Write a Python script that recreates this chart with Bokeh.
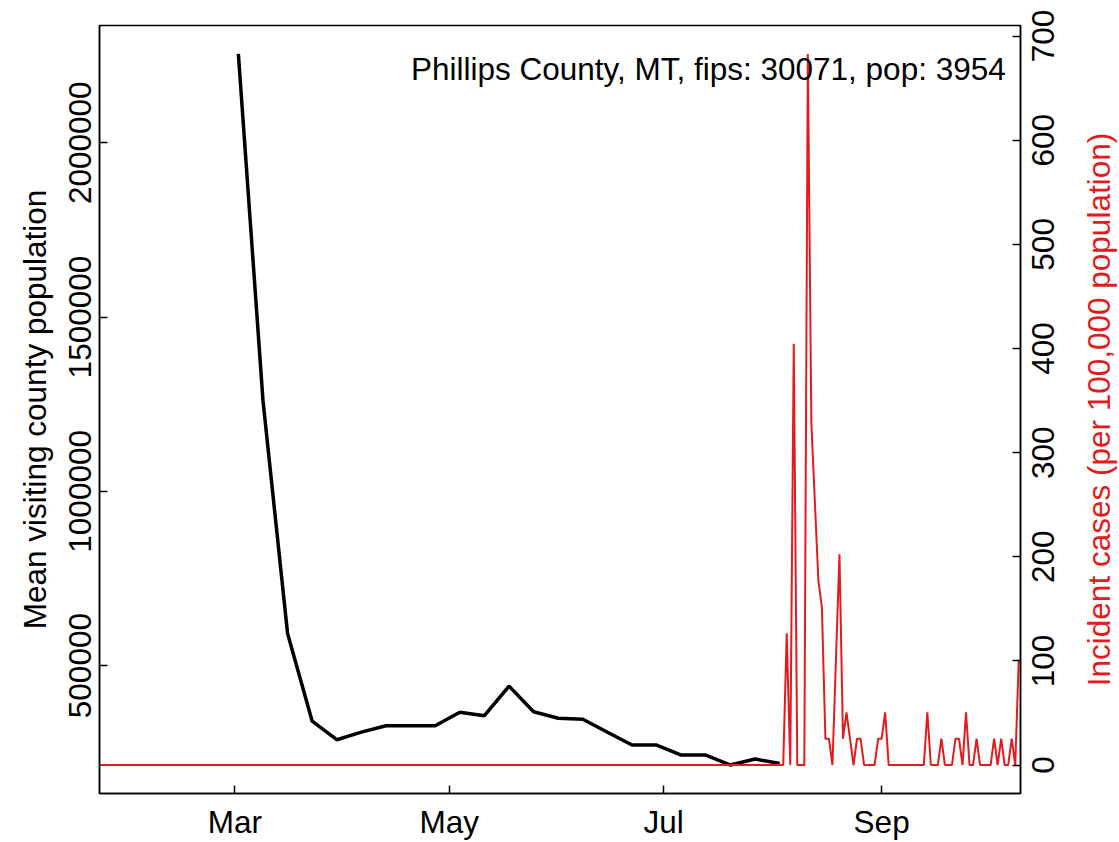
import math
import pandas as pd
from bokeh.plotting import figure
from bokeh.layouts import row
from bokeh.models import (Range1d, LinearAxis, FixedTicker, DatetimeTickFormatter,
                          BasicTickFormatter, Label, CustomJSTickFormatter)
from bokeh.core.properties import value
from bokeh.embed import file_html
from bokeh.resources import INLINE

# ---------------- data ----------------
county_label = "Phillips County, MT, fips: 30071, pop: 3954"
population = 3954
right_title = "Incident cases (per 100,000 population)"
left_title = "Mean visiting county population"

# weekly mean visiting county population (weeks starting Mondays)
visit_start = "2020-03-02"
visit_values = [2254900, 1261500, 592000, 340500, 287400, 309200, 327600,
                327600, 327600, 366400, 356300, 441100, 367800, 349100,
                346300, 308900, 272100, 272100, 243400, 243400, 214700,
                231900, 219200]

# daily incident cases, 2020-01-22 .. 2020-10-10
case_start = "2020-01-22"
cases_jan = [0, 0, 0, 0, 0, 0, 0, 0, 0, 0]
cases_feb = [0, 0, 0, 0, 0, 0, 0, 0, 0, 0, 0, 0, 0, 0, 0, 0, 0, 0, 0, 0,
             0, 0, 0, 0, 0, 0, 0, 0, 0]
cases_mar = [0, 0, 0, 0, 0, 0, 0, 0, 0, 0, 0, 0, 0, 0, 0, 0, 0, 0, 0, 0,
             0, 0, 0, 0, 0, 0, 0, 0, 0, 0, 0]
cases_apr = [0, 0, 0, 0, 0, 0, 0, 0, 0, 0, 0, 0, 0, 0, 0, 0, 0, 0, 0, 0,
             0, 0, 0, 0, 0, 0, 0, 0, 0, 0]
cases_may = [0, 0, 0, 0, 0, 0, 0, 0, 0, 0, 0, 0, 0, 0, 0, 0, 0, 0, 0, 0,
             0, 0, 0, 0, 0, 0, 0, 0, 0, 0, 0]
cases_jun = [0, 0, 0, 0, 0, 0, 0, 0, 0, 0, 0, 0, 0, 0, 0, 0, 0, 0, 0, 0,
             0, 0, 0, 0, 0, 0, 0, 0, 0, 0]
cases_jul = [0, 0, 0, 0, 0, 0, 0, 0, 0, 0, 0, 0, 0, 0, 0, 0, 0, 0, 0, 0,
             0, 0, 0, 0, 0, 0, 0, 0, 0, 0, 0]
cases_aug = [0, 0, 0, 0, 5, 0, 16, 0, 0, 0, 27, 13, 10, 7, 6, 1, 1, 0, 4, 8,
             1, 2, 1, 0, 1, 1, 0, 0, 0, 0, 1]
cases_sep = [1, 2, 0, 0, 0, 0, 0, 0, 0, 0, 0, 0, 0, 2, 0, 0, 0, 1, 0, 0,
             0, 1, 1, 0, 2, 0, 0, 1, 0, 0]
cases_oct = [0, 0, 1, 0, 1, 0, 0, 1, 0, 4]

month_ticks = ["2020-03-01", "2020-05-01", "2020-07-01", "2020-09-01"]
left_ticks = [500000, 1000000, 1500000, 2000000]
right_ticks = [0, 100, 200, 300, 400, 500, 600, 700]

# ---------------- derived ----------------
daily_cases = (cases_jan + cases_feb + cases_mar + cases_apr + cases_may +
               cases_jun + cases_jul + cases_aug + cases_sep + cases_oct)
case_dates = pd.date_range(case_start, periods=len(daily_cases), freq="D")
incidence = [c * 100000.0 / population for c in daily_cases]
visit_dates = pd.date_range(visit_start, periods=len(visit_values), freq="7D")

vmin, vmax = min(visit_values), max(visit_values)
vpad = 0.04 * (vmax - vmin)
imax = max(incidence)
r0, r1 = -0.04 * imax, 1.04 * imax

x0 = pd.Timestamp(case_start) + pd.Timedelta(hours=12)
x1 = case_dates[-1] + pd.Timedelta(hours=12)

FONT = "Liberation Sans"
FS = "31.5px"
RED = "#E41A1C"
H = 842
BL, BT, BB = 99, 25, 49
MAIN_W = 1022           # frame spans 99 .. 1020
SIDE_W = 1119 - MAIN_W  # strip holding the right-hand (bottom-to-top) texts
SIDE_BL = 40            # room for the incidence tick labels


def style_axis(ax):
    ax.major_tick_in = 8
    ax.major_tick_out = 0
    ax.minor_tick_in = 0
    ax.minor_tick_out = 0
    ax.axis_line_width = 1.5
    ax.major_tick_line_width = 1.5
    ax.major_label_text_font = FONT
    ax.major_label_text_font_size = FS
    ax.major_label_text_color = "black"
    ax.axis_label_text_font = FONT
    ax.axis_label_text_font_size = FS
    ax.axis_label_text_font_style = "normal"
    ax.axis_label_text_color = "black"


p = figure(width=MAIN_W, height=H, x_axis_type="datetime",
           x_range=Range1d(x0, x1),
           y_range=Range1d(vmin - vpad, vmax + vpad),
           output_backend="svg", toolbar_location=None,
           min_border_left=BL, min_border_right=2,
           min_border_top=BT, min_border_bottom=BB)
p.extra_y_ranges = {"cases": Range1d(r0, r1)}
p.xgrid.visible = False
p.ygrid.visible = False
p.outline_line_color = "black"
p.outline_line_width = 1.5
p.background_fill_color = "white"
p.border_fill_color = "white"

ax_r = LinearAxis(y_range_name="cases")
p.add_layout(ax_r, "right")

for ax in [p.xaxis[0], p.yaxis[0], ax_r]:
    style_axis(ax)

xa = p.xaxis[0]
xa.ticker = FixedTicker(ticks=[pd.Timestamp(t).value / 1e6 for t in month_ticks])
xa.formatter = DatetimeTickFormatter(months="%b", days="%b", years="%b")
xa.major_label_standoff = 10

ya = p.yaxis[0]
ya.ticker = FixedTicker(ticks=left_ticks)
ya.formatter = BasicTickFormatter(use_scientific=False)
ya.major_label_orientation = "vertical"
ya.major_label_standoff = 8
ya.axis_label = left_title
ya.axis_label_standoff = 14

# right axis of the main panel: tick marks only (labels live in the side strip)
ax_r.ticker = FixedTicker(ticks=right_ticks)
ax_r.formatter = CustomJSTickFormatter(code="return ''")
ax_r.major_label_standoff = 0
ax_r.major_label_text_font_size = "1px"

p.line(visit_dates, visit_values, line_color="black", line_width=3.5)
p.line(case_dates, incidence, line_color=RED, line_width=2, y_range_name="cases")

# annotation near top-right, placed relative to the axis ranges
lab_x = x1 - pd.Timedelta(days=4.2)
lab_y = (vmin - vpad) + 0.944 * ((vmax + vpad) - (vmin - vpad))
p.add_layout(Label(x=lab_x.value / 1e6, y=lab_y, text=county_label,
                   text_align="right", text_baseline="alphabetic",
                   text_font=FONT, text_font_size=FS, text_color="black"))

# ---- side strip: same vertical layout and incidence scale as the main frame ----
side = figure(width=SIDE_W, height=H, title=None,
              x_range=Range1d(0, SIDE_W - SIDE_BL),
              y_range=Range1d(r0, r1),
              output_backend="svg", toolbar_location=None,
              x_axis_location=None, y_axis_location="left",
              min_border_left=SIDE_BL, min_border_right=0,
              min_border_top=BT, min_border_bottom=BB)
side.xgrid.visible = False
side.ygrid.visible = False
side.outline_line_color = None
side.background_fill_color = "white"
side.border_fill_color = "white"

sa = side.yaxis[0]
style_axis(sa)
sa.ticker = FixedTicker(ticks=right_ticks)
sa.formatter = BasicTickFormatter(use_scientific=False)
sa.major_label_orientation = "vertical"
sa.major_label_standoff = 8
sa.major_tick_in = 0
sa.major_tick_out = 0
sa.axis_line_color = None
sa.major_tick_line_color = None

side.text(x=[36], y=[(r0 + r1) / 2], text=[right_title], angle=math.pi / 2,
          text_align="center", text_baseline="middle",
          text_font=value(FONT), text_font_size=value(FS), text_color=RED)

layout = row(p, side)
open("out.html", "w").write(file_html(layout, INLINE))
